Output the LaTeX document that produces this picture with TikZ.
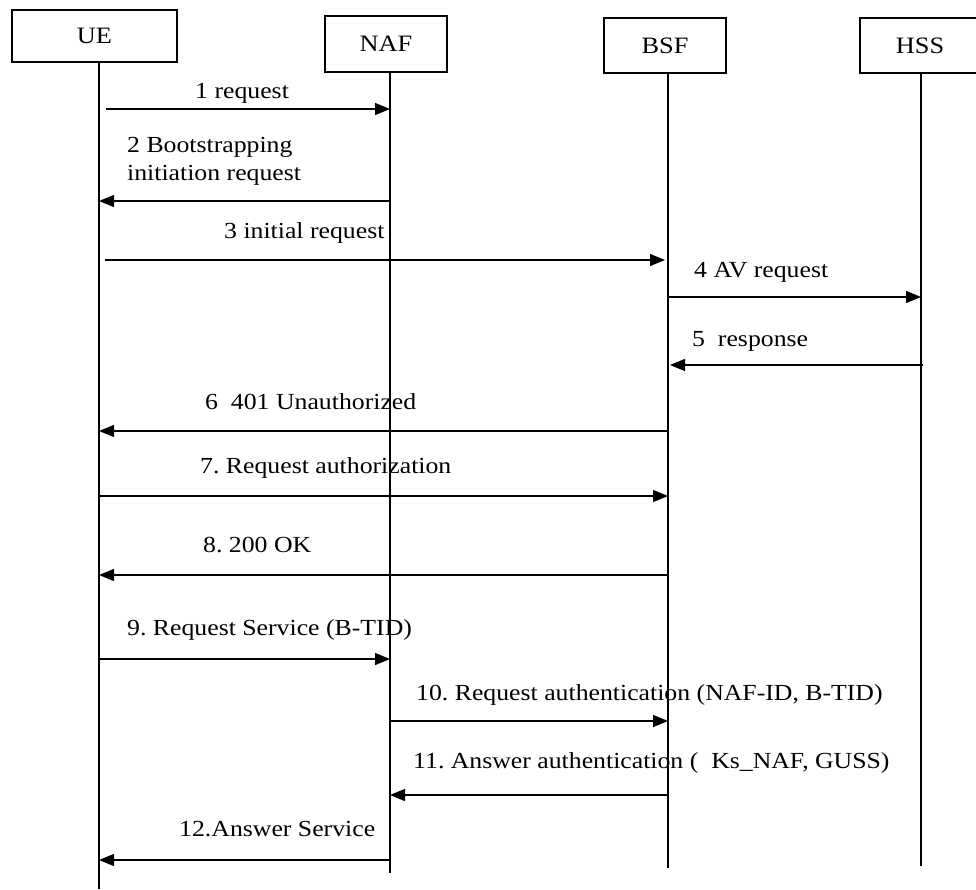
\documentclass[tikz,border=0pt]{standalone}
\usepackage{fontspec}
\setmainfont{Liberation Serif}[FakeStretch=1.12]
\usetikzlibrary{arrows.meta}
\begin{document}
\frenchspacing
\begin{tikzpicture}[x=1pt,y=-1pt,
  entity/.style={draw=black,line width=1.3pt,fill=white,inner sep=0pt,font=\fontsize{23.5}{27}\selectfont},
  life/.style={line width=1.3pt},
  msg/.style={line width=1.3pt,-{Triangle[length=15pt,width=12pt]}},
  lbl/.style={anchor=west,inner sep=0pt,font=\fontsize{23}{28}\selectfont\frenchspacing,align=left}]
\useasboundingbox (0,0) rectangle (976,889);
\clip (0,0) rectangle (976,889);
% entities
\node[entity,minimum width=165pt,minimum height=52pt] (ue) at (94.5,36) {UE};
\node[entity,minimum width=122pt,minimum height=56pt] (naf) at (386,44) {NAF};
\node[entity,minimum width=122pt,minimum height=55pt] (bsf) at (665,45.5) {BSF};
\node[entity,minimum width=120pt,minimum height=55pt] (hss) at (920,45.5) {HSS};
% lifeline anchors
\coordinate (ueT) at (99,62);   \coordinate (ueB) at (99,889);
\coordinate (nafT) at (390,72); \coordinate (nafB) at (390,873);
\coordinate (bsfT) at (668,73); \coordinate (bsfB) at (668,868);
\coordinate (hssT) at (921,73); \coordinate (hssB) at (921,866);
\draw[life] (ueT) -- (ueB);
\draw[life] (nafT) -- (nafB);
\draw[life] (bsfT) -- (bsfB);
\draw[life] (hssT) -- (hssB);
% messages
\draw[msg] ([xshift=7pt]ueT |- 0,109) -- (nafT |- 0,109);
\node[lbl] (l1) at (195,93) {1 request};
\draw[msg] (nafT |- 0,201) -- (ueT |- 0,201);
\node[lbl] (l2) at (127,161) {2 Bootstrapping\\initiation request};
\draw[msg] ([xshift=6pt]ueT |- 0,260) -- ([xshift=-3pt]bsfT |- 0,260);
\node[lbl] (l3) at (224,233) {3 initial request};
\draw[msg] (bsfT |- 0,297) -- (hssT |- 0,297);
\node[lbl] (l4) at (694,272) {4 AV request};
\draw[msg] ([xshift=2pt]hssT |- 0,365) -- ([xshift=2pt]bsfT |- 0,365);
\node[lbl] (l5) at (692,341) {5\ \ response};
\draw[msg] (bsfT |- 0,431) -- (ueT |- 0,431);
\node[lbl] (l6) at (205,402) {6\ \ 401 Unauthorized};
\draw[msg] (ueT |- 0,496) -- (bsfT |- 0,496);
\node[lbl] (l7) at (200,468) {7. Request authorization};
\draw[msg] (bsfT |- 0,575) -- (ueT |- 0,575);
\node[lbl] (l8) at (203,545) {8. 200 OK};
\draw[msg] (ueT |- 0,659) -- (nafT |- 0,659);
\node[lbl] (l9) at (127,630) {9. Request Service (B-TID)};
\draw[msg] (nafT |- 0,721) -- (bsfT |- 0,721);
\node[lbl] (l10) at (416,695) {10. Request authentication (NAF-ID, B-TID)};
\draw[msg] (bsfT |- 0,795) -- (nafT |- 0,795);
\node[lbl] (l11) at (413,763) {11. Answer authentication (\ \ Ks\_NAF, GUSS)};
\draw[msg] (nafT |- 0,860) -- (ueT |- 0,860);
\node[lbl] (l12) at (179,829) {12.Answer Service};
\end{tikzpicture}
\end{document}
